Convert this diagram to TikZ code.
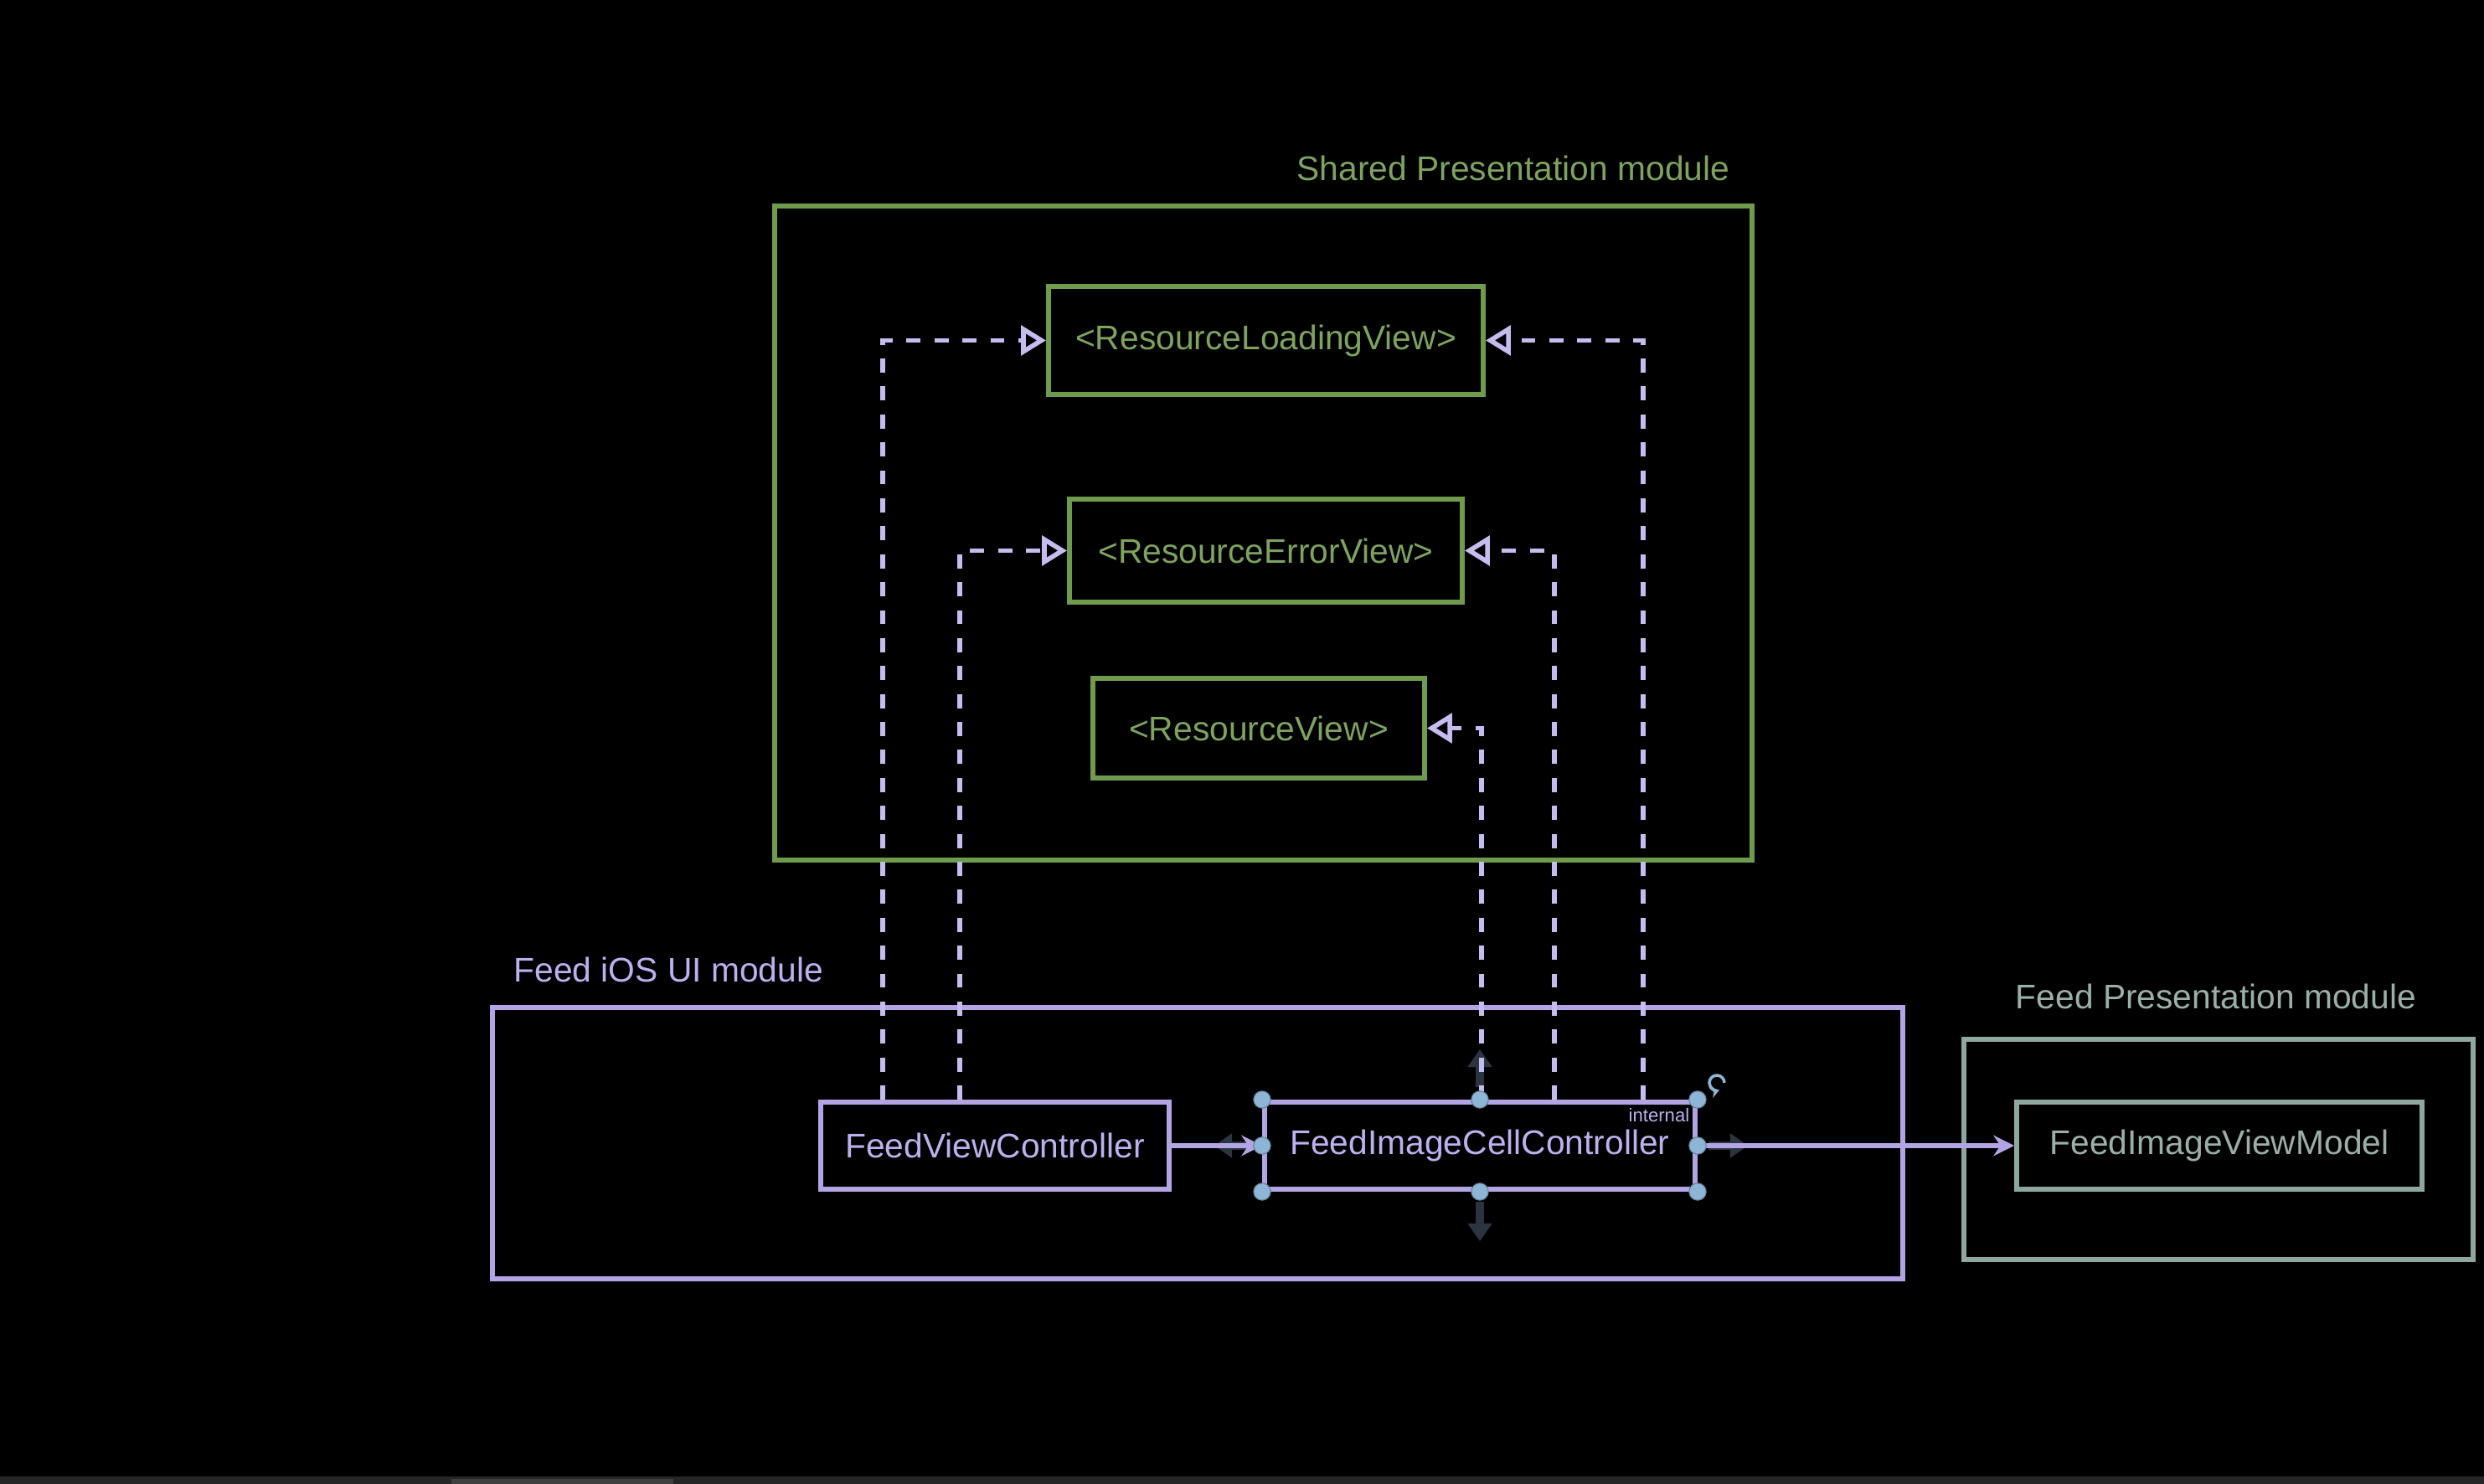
\documentclass[tikz,border=0pt]{standalone}
\usepackage{fontspec}
\setmainfont{Liberation Sans}
\usetikzlibrary{arrows.meta,calc}

\definecolor{sharedgreen}{HTML}{6F9B4C}
\definecolor{sharedtext}{HTML}{7DA35E}
\definecolor{uipurple}{HTML}{B3A5E3}
\definecolor{uitext}{HTML}{BDB0EE}
\definecolor{deppurple}{HTML}{C6BCEF}
\definecolor{presgray}{HTML}{8FA89F}
\definecolor{prestext}{HTML}{9AAFA8}
\definecolor{handleblue}{HTML}{8DB6D6}
\definecolor{dimarrow}{HTML}{2C3440}

\begin{document}
\begin{tikzpicture}[
        big text/.style={font=\fontsize{11.6}{14}\selectfont},
        box/.style={draw, line width=1.7pt, inner sep=0pt, big text},
        shared box/.style={box, sharedgreen, text=sharedtext},
        ui box/.style={box, uipurple, text=uitext},
        pres box/.style={box, presgray, text=prestext},
        module label/.style={big text, inner sep=0pt},
        dep line/.style={deppurple, line width=1.6pt, dash pattern=on 4.8pt off 4.7pt,
            -{Triangle[open, length=8.5pt, width=10pt]}},
        call line/.style={uipurple, line width=1.6pt, -{Stealth[length=7pt, width=7pt]}},
        handle/.style={circle, fill=handleblue, draw=handleblue!70!black, line width=0.3pt,
            minimum size=5.8pt, inner sep=0pt},
        dim arrow/.style={dimarrow, line width=3pt, -{Triangle[length=6pt, width=8pt]}},
    ]
    % background
    \fill[black] (0,0) rectangle (29.66,17.72);
    \useasboundingbox (0,0) rectangle (29.66,17.72);
    \fill[black!85] (0,0) rectangle (29.66,0.09);
    \fill[black!75] (5.39,0) rectangle (8.04,0.06);

    % Shared Presentation module
    \node[shared box, minimum width=11.67cm, minimum height=7.81cm] (shared) at (15.085,11.355) {};
    \node[module label, text=sharedtext, anchor=base east] (sharedlbl) at (20.66,15.56)
        {Shared Presentation module};
    \node[shared box, minimum width=5.19cm, minimum height=1.29cm] (loading) at (15.115,13.655)
        {<ResourceLoadingView>};
    \node[shared box, minimum width=4.69cm, minimum height=1.23cm] (error) at (15.115,11.145)
        {<ResourceErrorView>};
    \node[shared box, minimum width=3.96cm, minimum height=1.19cm] (resview) at (15.03,9.025)
        {<ResourceView>};

    % Feed iOS UI module
    \node[ui box, minimum width=16.84cm, minimum height=3.24cm] (iosui) at (14.30,4.07) {};
    \node[module label, text=uitext, anchor=base west] (iosuilbl) at (6.13,5.99)
        {Feed iOS UI module};

    % editor arrows behind the selected box
    \coordinate (upA) at (17.67,4.74);   \coordinate (upB) at (17.67,5.19);
    \coordinate (dnA) at (17.67,3.37);   \coordinate (dnB) at (17.67,2.90);
    \coordinate (lfA) at (15.02,4.04);   \coordinate (lfB) at (14.50,4.04);
    \coordinate (rtA) at (20.40,4.04);   \coordinate (rtB) at (20.87,4.04);
    \draw[dim arrow] (upA) -- (upB);
    \draw[dim arrow] (dnA) -- (dnB);
    \draw[dim arrow] (lfA) -- (lfB);
    \draw[dim arrow] (rtA) -- (rtB);

    \node[ui box, minimum width=4.16cm, minimum height=1.04cm] (fvc) at (11.88,4.04)
        {FeedViewController};
    \node[ui box, minimum width=5.14cm, minimum height=1.04cm] (ficc) at (17.67,4.04)
        {FeedImageCellController};
    \node[text=uitext, font=\fontsize{6.3}{7}\selectfont, inner sep=0pt, anchor=north east]
        (internal) at ([xshift=-0.09cm, yshift=-0.1cm]ficc.north east) {internal};

    % Feed Presentation module
    \node[pres box, minimum width=6.08cm, minimum height=2.63cm] (feedpres) at (26.49,3.995) {};
    \node[module label, text=prestext, anchor=base] (feedpreslbl) at (26.46,5.67)
        {Feed Presentation module};
    \node[pres box, minimum width=4.84cm, minimum height=1.04cm] (fivm) at (26.50,4.04)
        {FeedImageViewModel};

    % dependencies on the shared protocols
    \draw[dep line] ([xshift=-1.34cm]fvc.north) |- (loading.west);
    \draw[dep line] ([xshift=-0.42cm]fvc.north) |- (error.west);
    \draw[dep line] ([xshift=0.02cm]ficc.north) |- (resview.east);
    \draw[dep line] ([xshift=0.89cm]ficc.north) |- (error.east);
    \draw[dep line] ([xshift=1.95cm]ficc.north) |- (loading.east);

    % calls
    \draw[call line] (fvc.east) -- (ficc.west);
    \draw[call line] (ficc.east) -- (fivm.west);

    % selection handles
    \foreach \a in {north west, north, north east, west, east, south west, south, south east}
        \node[handle] (hdl-\a) at (ficc.\a) {};
    \coordinate (rot) at (20.59,4.79);
    \draw[handleblue, line width=1pt, -{Stealth[length=3pt, width=3.5pt]}]
        (rot) arc[start angle=0, end angle=290, radius=0.09];
\end{tikzpicture}
\end{document}
